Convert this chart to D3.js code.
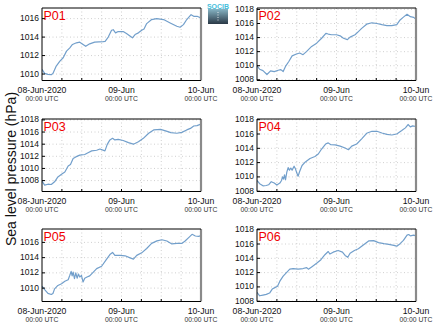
<!DOCTYPE html>
<html><head><meta charset="utf-8">
<script src="https://cdn.jsdelivr.net/npm/d3@7"></script>
<style>body{margin:0;background:#fff}svg{display:block;font-family:"Liberation Sans",Arial,sans-serif}</style>
</head><body><svg id="c" width="435" height="327"></svg>
<script>
const stations = ["P01","P02","P03","P04","P05","P06"];
const xTickLabels = ["08-Jun-2020","09-Jun","10-Jun"];
const xSubLabel = "00:00 UTC";
const yTitle = "Sea level pressure (hPa)";
const yDomains = [[1009.3,1017.15],[1007.9,1018.2],[1006.2,1018.15],[1007.96,1018.1],[1008.24,1017.76],[1007.96,1018.1]];
const yTicks = [
  [1010,1012,1014,1016],
  [1008,1010,1012,1014,1016,1018],
  [1008,1010,1012,1014,1016,1018],
  [1008,1010,1012,1014,1016,1018],
  [1010,1012,1014,1016],
  [1008,1010,1012,1014,1016,1018]
];
// [hours since 08-Jun-2020 00:00 UTC, hPa]
const p01 = [[0,1010.5],[0.8,1010.07],[1.8,1009.96],[2.8,1009.93],[3.3,1010.07],[4.3,1010.86],[5.4,1011.4],[6.4,1011.76],[7.4,1012.48],[8.4,1012.84],[9.2,1013.2],[10.4,1013.38],[11.4,1013.45],[12.4,1013.2],[13.2,1013.0],[14.4,1013.27],[15.9,1013.45],[18.5,1013.5],[19,1013.52],[20,1014.0],[21,1014.74],[21.5,1014.8],[22.2,1014.46],[23,1014.6],[24.5,1014.6],[25.5,1014.38],[27.3,1013.92],[28.1,1014.28],[29.1,1014.46],[30.1,1014.74],[30.8,1014.88],[31.6,1015.46],[33.1,1015.9],[34.6,1016.0],[36.7,1015.9],[38.7,1015.53],[40.7,1015.17],[41.7,1015.07],[42.7,1015.35],[43.7,1015.9],[45,1016.43],[45.8,1016.25],[46.8,1016.25],[48,1016.07]];
const p02 = [[0,1010.0],[0.8,1009.5],[1.8,1009.3],[3,1008.75],[4.1,1009.26],[5.2,1009.17],[6.4,1009.36],[7.2,1009.45],[7.9,1009.17],[8.6,1009.9],[9.6,1010.6],[10.6,1011.4],[11.9,1011.66],[12.9,1011.8],[13.9,1011.57],[15,1012.04],[16.5,1012.74],[18,1013.2],[19.5,1013.9],[20.8,1014.6],[21.5,1014.5],[22.5,1014.4],[24,1014.4],[25.1,1014.25],[26.1,1013.9],[27.3,1013.7],[28.1,1014.06],[29.6,1014.4],[30.6,1014.85],[31.6,1015.3],[33.1,1015.9],[34.7,1016.1],[36.2,1016.0],[37.7,1015.84],[39.2,1015.7],[40.7,1015.7],[42.2,1015.84],[43.2,1016.5],[44.2,1016.9],[45.3,1017.3],[46.3,1016.97],[47.3,1016.87],[48,1016.6]];
const p03 = [[0,1007.9],[0.8,1007.25],[1.8,1007.4],[2.8,1007.35],[3.8,1007.8],[4.8,1008.6],[5.9,1009.05],[6.9,1009.4],[7.9,1010.4],[8.6,1010.65],[9.4,1011.65],[10.2,1011.9],[11.4,1012.2],[12.9,1012.3],[13.9,1012.6],[15,1012.9],[16.5,1013.0],[17.5,1013.2],[19,1012.9],[19.7,1013.97],[20.5,1014.7],[21.3,1014.96],[22,1014.7],[23,1014.8],[24.5,1014.6],[26.1,1014.25],[27.6,1014.0],[29.1,1014.4],[30.6,1014.96],[32.2,1015.8],[33.7,1016.35],[35.8,1016.45],[37.3,1016.2],[38.9,1015.9],[40.7,1015.8],[42.2,1015.95],[43.7,1016.35],[44.8,1016.6],[45.8,1017.0],[46.8,1017.06],[48,1017.3]];
const p04 = [[0,1009.5],[0.8,1009.05],[1.8,1008.76],[2.8,1008.8],[3.5,1008.9],[4.3,1009.33],[5.2,1009.14],[6,1008.86],[6.9,1009.14],[7.4,1009.5],[7.7,1010.0],[8.0,1009.7],[8.3,1010.3],[8.6,1009.6],[9.0,1010.67],[9.4,1011.3],[9.8,1010.95],[10.2,1011.24],[10.6,1010.95],[11.2,1011.5],[11.6,1011.14],[12.0,1010.57],[12.4,1010.1],[12.9,1010.8],[13.6,1011.6],[14.6,1012.1],[16,1012.57],[17.5,1012.86],[18.5,1013.2],[19.5,1013.9],[20.7,1014.6],[21.5,1014.76],[22.3,1014.5],[23.6,1014.48],[25.1,1014.3],[26.6,1014.05],[27.6,1013.8],[28.6,1014.3],[30.1,1014.6],[31.6,1015.33],[33.1,1016.1],[34.7,1016.38],[36.2,1016.38],[37.7,1016.14],[39.2,1015.95],[40.7,1015.86],[42.2,1016.0],[43.7,1016.48],[44.8,1016.86],[45.6,1017.33],[46.3,1017.0],[47,1017.14],[48,1017.05]];
const p05 = [[0,1010.26],[0.8,1009.8],[1.8,1009.3],[2.8,1009.16],[3.3,1009.3],[3.8,1009.9],[4.8,1010.35],[5.9,1010.57],[6.9,1010.9],[7.9,1011.1],[8.4,1011.68],[8.8,1012.2],[9.1,1011.6],[9.4,1012.1],[9.8,1011.24],[10.2,1012.0],[10.6,1011.3],[11,1011.85],[11.4,1011.45],[11.9,1011.68],[12.4,1010.8],[12.9,1011.3],[13.6,1011.45],[14.4,1011.6],[15.5,1012.1],[16.5,1012.56],[18,1012.87],[19.3,1013.66],[20.5,1014.4],[21.3,1014.68],[22,1014.3],[23.6,1014.3],[25.1,1014.24],[26.6,1013.97],[27.6,1013.8],[28.6,1014.3],[30.1,1014.63],[31.6,1015.2],[33.1,1015.87],[34.7,1016.2],[36.2,1016.35],[37.7,1016.18],[39.2,1015.8],[40.7,1015.87],[42.2,1015.87],[43.2,1016.18],[44.2,1016.6],[45.3,1017.06],[46.3,1016.84],[47.3,1016.8],[48,1016.9]];
const p06 = [[0,1009.24],[0.8,1008.76],[1.8,1008.86],[2.8,1008.95],[3.8,1009.14],[4.6,1009.7],[5.4,1009.9],[6.2,1010.1],[6.9,1010.8],[7.9,1011.5],[8.9,1012.0],[9.9,1012.48],[10.9,1012.57],[12.4,1012.48],[13.9,1012.57],[15,1012.7],[15.5,1012.48],[16.5,1012.8],[18,1013.3],[19.3,1013.8],[20.5,1014.5],[21.5,1014.95],[22,1014.6],[23,1014.86],[24.5,1015.1],[25.8,1014.86],[26.6,1014.4],[27.4,1014.14],[28.1,1014.7],[29.4,1015.1],[30.6,1015.33],[32.2,1015.9],[33.7,1016.43],[35.2,1016.48],[36.7,1016.2],[38.3,1016.05],[39.8,1015.95],[41.3,1015.8],[42.2,1015.7],[43.2,1016.05],[44.2,1016.5],[45.3,1017.24],[45.8,1017.33],[46.3,1017.14],[47.3,1017.24],[48,1017.14]];
const seriesList = [p01,p02,p03,p04,p05,p06];

const t0 = Date.UTC(2020,5,8);
const toDate = h => new Date(t0 + h*3600e3);
const svg = d3.select("#c");

const colLeft = [42, 257], rowTop = [8, 119, 229];
const pw = 159, ph = 72.5;

// logo
const defs = svg.append("defs");
const lg = defs.append("linearGradient").attr("id","lg").attr("x1",0).attr("y1",0).attr("x2",0).attr("y2",1);
lg.append("stop").attr("offset","0%").attr("stop-color","#86b4c4");
lg.append("stop").attr("offset","100%").attr("stop-color","#2a3846");
svg.append("rect").attr("x",208).attr("y",9).attr("width",20).attr("height",15).attr("fill","url(#lg)");
svg.append("line").attr("x1",218).attr("x2",218).attr("y1",12).attr("y2",21).attr("stroke","#fff").attr("stroke-dasharray","1,1.5").attr("stroke-width",0.8);
svg.append("text").attr("x",218).attr("y",9).attr("text-anchor","middle").attr("font-size",7).attr("fill","#45c0dc").attr("font-weight","bold").text("SOCIB");

const x = d3.scaleUtc().domain([toDate(0), toDate(48)]).range([0, pw]);
const gridHours = d3.range(6, 48, 6);
const xTickHours = [0, 24, 48];

stations.forEach((name, i) => {
  const left = colLeft[i % 2], top = rowTop[Math.floor(i / 2)];
  const y = d3.scaleLinear().domain(yDomains[i]).range([ph, 0]);
  const g = svg.append("g").attr("transform", `translate(${left},${top})`);
  // grid
  g.selectAll(".hg").data(yTicks[i]).join("line")
    .attr("x1",0).attr("x2",pw).attr("y1",d=>y(d)).attr("y2",d=>y(d))
    .attr("stroke","#c4c4c4").attr("stroke-width",0.8).attr("stroke-dasharray","1,2.5");
  g.selectAll(".vg").data(gridHours).join("line")
    .attr("x1",d=>x(toDate(d))).attr("x2",d=>x(toDate(d))).attr("y1",0).attr("y2",ph)
    .attr("stroke","#c4c4c4").attr("stroke-width",0.8).attr("stroke-dasharray","1,2.5");
  // line
  const cid = "clip" + i;
  defs.append("clipPath").attr("id", cid).append("rect").attr("width", pw).attr("height", ph);
  g.append("path").datum(seriesList[i]).attr("clip-path", `url(#${cid})`)
    .attr("fill","none").attr("stroke","#729fcb").attr("stroke-width",1.2).attr("stroke-linejoin","round")
    .attr("d", d3.line().x(d => x(toDate(d[0]))).y(d => y(d[1])));
  // frame
  g.append("line").attr("x1",pw).attr("x2",pw).attr("y1",0).attr("y2",ph).attr("stroke","#8a8a8a").attr("stroke-width",2.2);
  g.append("path").attr("d",`M${pw},0H0V${ph}H${pw}`).attr("fill","none").attr("stroke","#000").attr("stroke-width",1);
  // y axis ticks & labels
  g.selectAll(".yt").data(yTicks[i]).join("line")
    .attr("x1",0).attr("x2",3).attr("y1",d=>y(d)).attr("y2",d=>y(d)).attr("stroke","#000");
  g.selectAll(".yl").data(yTicks[i]).join("text")
    .attr("x",-3).attr("y",d=>y(d)).attr("dy","0.3em").attr("text-anchor","end")
    .attr("font-size",8.5).attr("fill","#111").text(d=>d);
  // x tick marks
  g.selectAll(".xt").data(gridHours).join("line")
    .attr("x1",d=>x(toDate(d))).attr("x2",d=>x(toDate(d))).attr("y1",ph).attr("y2",ph-2.5).attr("stroke","#000");
  // x labels
  g.selectAll(".xl").data(xTickHours).join("text")
    .attr("x",d=>x(toDate(d))).attr("y",ph+12).attr("text-anchor","middle")
    .attr("font-size",8.7).attr("fill","#111").text((d,k)=>xTickLabels[k]);
  g.selectAll(".xs").data(xTickHours).join("text")
    .attr("x",d=>x(toDate(d))).attr("y",ph+20.3).attr("text-anchor","middle")
    .attr("font-size",6.8).attr("fill","#333").text(xSubLabel);
  // station label
  g.append("text").attr("x",1.5).attr("y",11.5).attr("font-size",12.5).attr("fill","#f00000").text(name);
});

svg.append("text").attr("transform","translate(15.5,169) rotate(-90)").attr("text-anchor","middle")
  .attr("font-size",14).attr("fill","#111").text(yTitle);
</script></body></html>
